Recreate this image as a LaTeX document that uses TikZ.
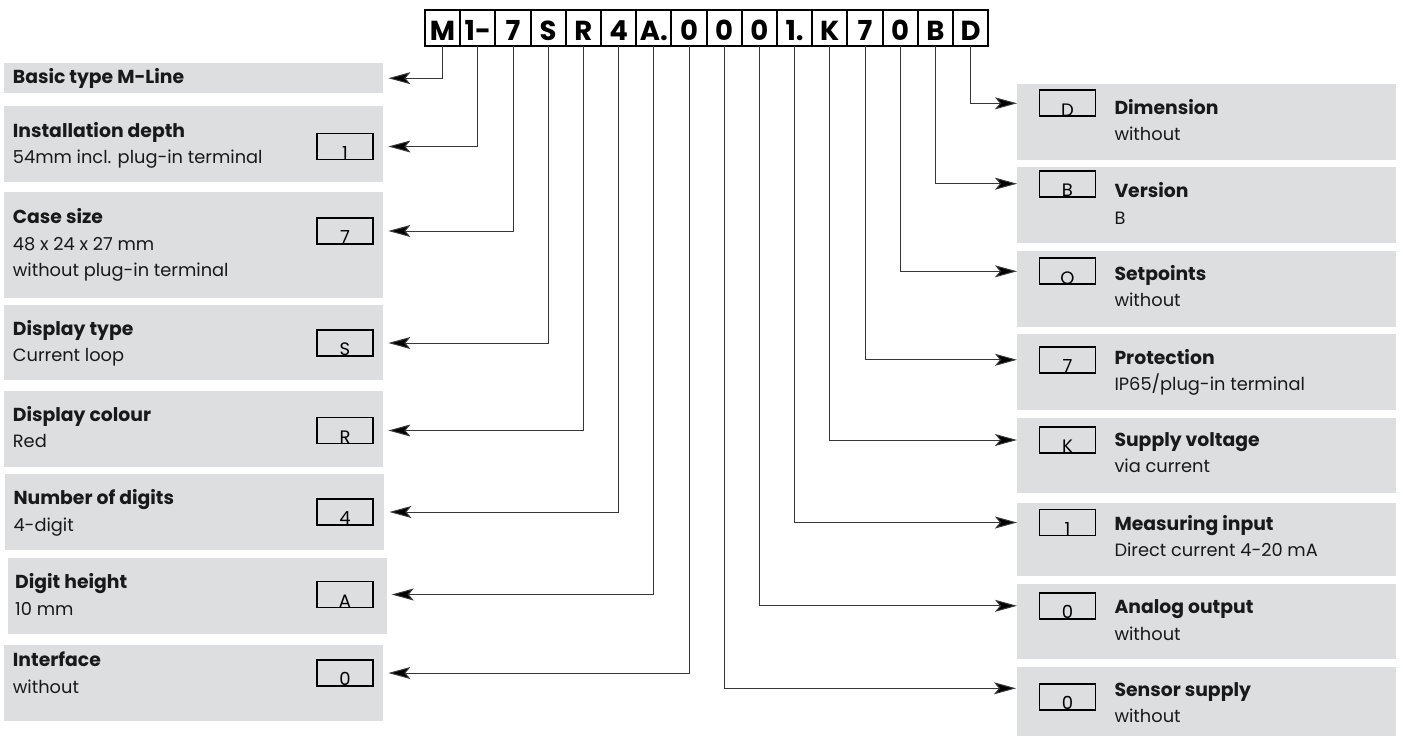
\documentclass[tikz,border=0pt]{standalone}
\usepackage{fontspec}
\setmainfont{Poppins}
\usepackage{xcolor}
\usepackage{tikz}
\usetikzlibrary{arrows.meta, positioning}
\definecolor{panelgray}{RGB}{221,222,224}
\definecolor{linegray}{RGB}{55,55,55}
\tikzstyle{codebox} = [rectangle, draw=black, line width=2pt, outer sep=0pt, inner sep=0pt, minimum width=35.2pt, minimum height=36pt, text height=25.4pt, text depth=0pt, font=\fontsize{27.5}{27.5}\selectfont\bfseries]
\tikzstyle{panel} = [rectangle, fill=panelgray, inner sep=0pt, anchor=north west, minimum width=379pt]
\tikzstyle{keybox} = [rectangle, draw=black, line width=1.7pt, inner sep=0pt, minimum width=56pt, minimum height=26pt, text height=25.5pt, text depth=0pt, font=\fontsize{18}{18}\selectfont]
\tikzstyle{desc} = [anchor=base west, inner sep=0pt, align=left, text=black!90, font=\fontsize{17.8}{26.7}\selectfont]
\tikzstyle{arrow} = [draw=linegray, line width=1pt, -{Stealth[length=22pt, width=12pt, inset=5pt, fill=black]}]
\newcommand{\ttl}[1]{{\fontsize{18.8}{26.7}\selectfont\bfseries #1}}

\begin{document}
\begin{tikzpicture}[x=1pt, y=-1pt]
    \useasboundingbox (0,0) rectangle (1403,736);

    % type code
    \node (c1) [codebox] at (442.6,28) {M};
    \node (c2) [codebox, right=0pt of c1] {1-};
    \node (c3) [codebox, right=0pt of c2] {7};
    \node (c4) [codebox, right=0pt of c3] {S};
    \node (c5) [codebox, right=0pt of c4] {R};
    \node (c6) [codebox, right=0pt of c5] {4};
    \node (c7) [codebox, right=0pt of c6] {A.};
    \node (c8) [codebox, right=0pt of c7] {0};
    \node (c9) [codebox, right=0pt of c8] {0};
    \node (c10) [codebox, right=0pt of c9] {0};
    \node (c11) [codebox, right=0pt of c10] {1.};
    \node (c12) [codebox, right=0pt of c11] {K};
    \node (c13) [codebox, right=0pt of c12] {7};
    \node (c14) [codebox, right=0pt of c13] {0};
    \node (c15) [codebox, right=0pt of c14] {B};
    \node (c16) [codebox, right=0pt of c15] {D};

    % left column
    \node (lp1) [panel, minimum height=30pt] at (4,63) {};
    \node (lp2) [panel, minimum height=76pt] at (4,106) {};
    \node (lp3) [panel, minimum height=105.3pt] at (4,192) {};
    \node (lp4) [panel, minimum height=75pt] at (4,305) {};
    \node (lp5) [panel, minimum height=76pt] at (4,390.7) {};
    \node (lp6) [panel, minimum height=76pt] at (5,474) {};
    \node (lp7) [panel, minimum height=75.6pt] at (7.3,557.7) {};
    \node (lp8) [panel, minimum height=75.7pt] at (4,645) {};

    \node (lt1) [desc] at (12.7,83.3) {\ttl{Basic type M-Line}};
    \node (lt2) [desc] at (12.7,163.7) {\ttl{Installation depth}\\54mm incl. plug-in terminal};
    \node (lt3) [desc] at (12.7,276.7) {\ttl{Case size}\\48 x 24 x 27 mm\\without plug-in terminal};
    \node (lt4) [desc] at (12.7,361.7) {\ttl{Display type}\\Current loop};
    \node (lt5) [desc] at (12.7,447.7) {\ttl{Display colour}\\Red};
    \node (lt6) [desc] at (13.3,531) {\ttl{Number of digits}\\4-digit};
    \node (lt7) [desc] at (15,615) {\ttl{Digit height}\\10 mm};
    \node (lt8) [desc] at (12.7,693.4) {\ttl{Interface}\\without};

    \node (lk2) [keybox] at (345,146.5) {1};
    \node (lk3) [keybox] at (345,231) {7};
    \node (lk4) [keybox] at (345,343) {S};
    \node (lk5) [keybox] at (345,430.5) {R};
    \node (lk6) [keybox] at (345,512) {4};
    \node (lk7) [keybox] at (345,594.5) {A};
    \node (lk8) [keybox] at (345,673) {0};

    % right column
    \node (rp1) [panel, minimum height=76pt] at (1017,83.3) {};
    \node (rp2) [panel, minimum height=76pt] at (1017,166.7) {};
    \node (rp3) [panel, minimum height=75.7pt] at (1017,251) {};
    \node (rp4) [panel, minimum height=75.3pt] at (1017,334) {};
    \node (rp5) [panel, minimum height=75.4pt] at (1017,417.3) {};
    \node (rp6) [panel, minimum height=73pt] at (1017,502.7) {};
    \node (rp7) [panel, minimum height=75pt] at (1017,583.3) {};
    \node (rp8) [panel, minimum height=69.3pt] at (1017,666.7) {};

    \node (rt1) [desc] at (1114.3,140.7) {\ttl{Dimension}\\without};
    \node (rt2) [desc] at (1114.3,224) {\ttl{Version}\\B};
    \node (rt3) [desc] at (1114.3,306.7) {\ttl{Setpoints}\\without};
    \node (rt4) [desc] at (1114.3,390.7) {\ttl{Protection}\\IP65/plug-in terminal};
    \node (rt5) [desc] at (1114.3,472.7) {\ttl{Supply voltage}\\via current};
    \node (rt6) [desc] at (1114.3,556.7) {\ttl{Measuring input}\\Direct current 4-20 mA};
    \node (rt7) [desc] at (1114.3,640) {\ttl{Analog output}\\without};
    \node (rt8) [desc] at (1114.3,722.7) {\ttl{Sensor supply}\\without};

    \node (rk1) [keybox] at (1067.5,103.3) {D};
    \node (rk2) [keybox] at (1067.5,183.7) {B};
    \node (rk3) [keybox] at (1067.5,271.3) {O};
    \node (rk4) [keybox] at (1067.5,359.8) {7};
    \node (rk5) [keybox] at (1067.5,440) {K};
    \node (rk6) [keybox] at (1067.5,522.5) {1};
    \node (rk7) [keybox] at (1067.5,605.8) {0};
    \node (rk8) [keybox] at (1067.5,697.2) {0};
    \coordinate (a8) at (1016,688.3);

    % connectors
    \draw [arrow, shorten >=5pt] (c1.south) |- (lp1.east);
    \draw [arrow, shorten >=5pt] (c2.south) |- (lp2.east |- lk2);
    \draw [arrow, shorten >=5pt] (c3.south) |- (lp3.east |- lk3);
    \draw [arrow, shorten >=5pt] (c4.south) |- (lp4.east |- lk4);
    \draw [arrow, shorten >=5pt] (c5.south) |- (lp5.east |- lk5);
    \draw [arrow, shorten >=5pt] (c6.south) |- (lp6.east |- lk6);
    \draw [arrow, shorten >=5pt] (c7.south) |- (lp7.east |- lk7);
    \draw [arrow, shorten >=5pt] (c8.south) |- (lp8.east |- lk8);
    \draw [arrow] (c16.south) |- (rp1.west |- rk1);
    \draw [arrow] (c15.south) |- (rp2.west |- rk2);
    \draw [arrow] (c14.south) |- (rp3.west |- rk3);
    \draw [arrow] (c13.south) |- (rp4.west |- rk4);
    \draw [arrow] (c12.south) |- (rp5.west |- rk5);
    \draw [arrow] (c11.south) |- (rp6.west |- rk6);
    \draw [arrow] (c10.south) |- (rp7.west |- rk7);
    \draw [arrow] (c9.south) |- (a8);
\end{tikzpicture}
\end{document}
